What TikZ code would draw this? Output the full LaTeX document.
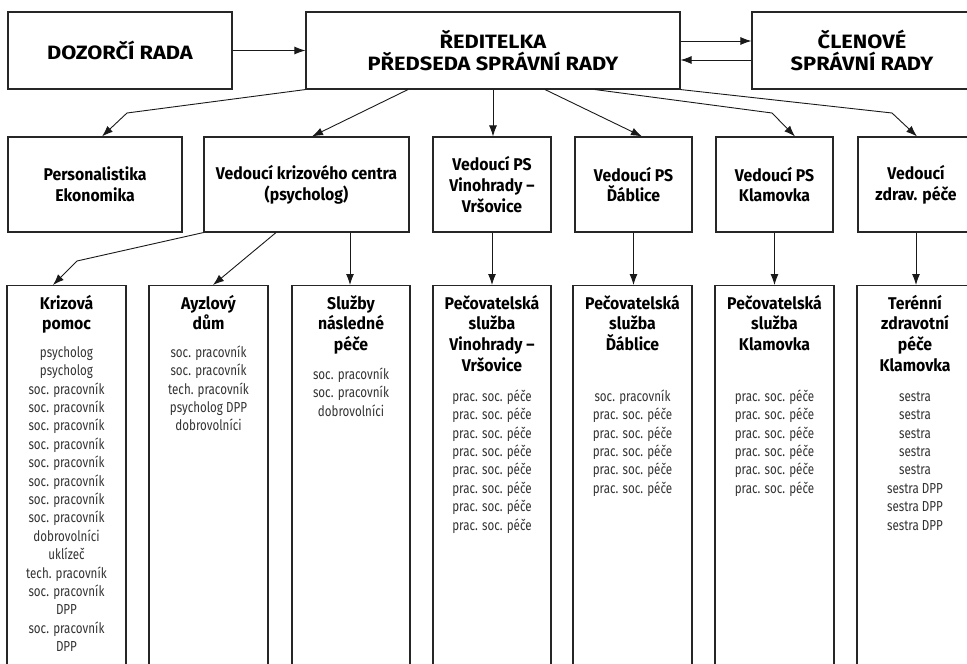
\documentclass[tikz,border=0pt]{standalone}
\usepackage{fontspec}
\setmainfont{Fira Sans}
\newfontfamily\topfont{Fira Sans}[FakeStretch=1.13]
\newfontfamily\condfont{Fira Sans}[FakeStretch=0.93]
\newfontfamily\listfont{Fira Sans}[FakeStretch=0.8]
\usetikzlibrary{arrows.meta}
\newcommand{\myTS}{\rule{0pt}{16pt}}
\newcommand{\myLS}{\rule{0pt}{13pt}}
\tikzset{
 box/.style={draw=black!85, line width=1.1pt, inner sep=0pt, align=center},
 topbox/.style={box, minimum height=77pt, font=\topfont\bfseries\fontsize{19.3}{21.5}\selectfont},
 midbox/.style={box, minimum height=95pt, font=\condfont\bfseries\fontsize{17}{20.7}\selectfont},
 colbox/.style={draw=black!85, line width=1.1pt, anchor=north, minimum height=420pt, inner sep=0pt},
 coltitle/.style={anchor=north, inner sep=0pt, align=center, font=\condfont\bfseries\fontsize{17}{20.7}\selectfont},
 collist/.style={anchor=north, inner sep=0pt, align=center, text=black!80, font=\listfont\fontsize{14.5}{18.4}\selectfont},
 arr/.style={draw=black!90, line width=0.9pt, -{Latex[length=11pt,width=8pt]}},
}
\begin{document}
\begin{tikzpicture}[x=1pt,y=-1pt]
\useasboundingbox (0,0) rectangle (967,664);
\clip (0,0) rectangle (967,664);

% top row
\node[topbox, minimum width=224pt] (dozor) at (120,50.5) {DOZORČÍ RADA};
\node[topbox, minimum width=374pt] (red) at (493,50.5) {ŘEDITELKA\\PŘEDSEDA SPRÁVNÍ RADY};
\node[topbox, minimum width=220pt] (clen) at (862,50.5) {ČLENOVÉ\\SPRÁVNÍ RADY};

% second row
\node[midbox, minimum width=174pt] (pers) at (95,184.5) {Personalistika\\Ekonomika};
\node[midbox, minimum width=205pt] (kriz) at (306.5,184.5) {Vedoucí krizového centra\\(psycholog)};
\node[midbox, minimum width=118pt] (vin) at (492,184.5) {Vedoucí PS\\Vinohrady –\\Vršovice};
\node[midbox, minimum width=117pt] (dab) at (633.5,184.5) {Vedoucí PS\\Ďáblice};
\node[midbox, minimum width=117pt] (klam) at (774.5,184.5) {Vedoucí PS\\Klamovka};
\node[midbox, minimum width=116pt] (zdr) at (916,184.5) {Vedoucí\\zdrav. péče};

% third row boxes
\node[colbox, minimum width=119pt] (c1) at (66.5,285) {};
\node[colbox, minimum width=119pt] (c2) at (208.5,285) {};
\node[colbox, minimum width=118pt] (c3) at (351,285) {};
\node[colbox, minimum width=118pt] (c4) at (492,285) {};
\node[colbox, minimum width=119pt] (c5) at (632.5,285) {};
\node[colbox, minimum width=119pt] (c6) at (774.5,285) {};
\node[colbox, minimum width=116pt] (c7) at (915,285) {};

% titles
\node[coltitle] (t1) at (66.5,293) {\myTS Krizová\\pomoc};
\node[coltitle] (t2) at (208.5,293) {\myTS Ayzlový\\dům};
\node[coltitle] (t3) at (351,293) {\myTS Služby\\následné\\péče};
\node[coltitle] (t4) at (492,293) {\myTS Pečovatelská\\služba\\Vinohrady –\\Vršovice};
\node[coltitle] (t5) at (632.5,293) {\myTS Pečovatelská\\služba\\Ďáblice};
\node[coltitle] (t6) at (774.5,293) {\myTS Pečovatelská\\služba\\Klamovka};
\node[coltitle] (t7) at (915,293) {\myTS Terénní\\zdravotní\\péče\\Klamovka};

% lists
\node[collist] (l1) at (66.5,344) {\myLS psycholog\\psycholog\\soc. pracovník\\soc. pracovník\\soc. pracovník\\soc. pracovník\\soc. pracovník\\soc. pracovník\\soc. pracovník\\soc. pracovník\\dobrovolníci\\uklízeč\\tech. pracovník\\soc. pracovník\\DPP\\soc. pracovník\\DPP};
\node[collist] (l2) at (208.5,344) {\myLS soc. pracovník\\soc. pracovník\\tech. pracovník\\psycholog DPP\\dobrovolníci};
\node[collist] (l3) at (351,366) {\myLS soc. pracovník\\soc. pracovník\\dobrovolníci};
\node[collist] (l4) at (492,388) {\myLS prac. soc. péče\\prac. soc. péče\\prac. soc. péče\\prac. soc. péče\\prac. soc. péče\\prac. soc. péče\\prac. soc. péče\\prac. soc. péče};
\node[collist] (l5) at (632.5,388) {\myLS soc. pracovník\\prac. soc. péče\\prac. soc. péče\\prac. soc. péče\\prac. soc. péče\\prac. soc. péče};
\node[collist] (l6) at (774.5,388) {\myLS prac. soc. péče\\prac. soc. péče\\prac. soc. péče\\prac. soc. péče\\prac. soc. péče\\prac. soc. péče};
\node[collist] (l7) at (915,388) {\myLS sestra\\sestra\\sestra\\sestra\\sestra\\sestra DPP\\sestra DPP\\sestra DPP};

% top connectors
\draw[arr] (dozor.east) -- (red.west);
\draw[arr] ([yshift=9.5pt]red.east) -- ([yshift=9.5pt]clen.west);
\draw[arr] ([yshift=-9.5pt]clen.west) -- ([yshift=-9.5pt]red.east);

% director to second row
\coordinate (k1) at (127,113);
\coordinate (k2) at (772,113);
\coordinate (k3) at (892,113);
\draw[arr] (red.south west) -- (k1) -- ([xshift=7pt]pers.north);
\draw[arr] ([xshift=-85pt]red.south) -- ([xshift=5.5pt]kriz.north);
\draw[arr] (red.south) -- (red.south |- vin.north);
\draw[arr] ([xshift=52pt]red.south) -- ([xshift=8.5pt]dab.north);
\draw[arr] ([xshift=102pt]red.south) -- (k2) -- ([xshift=20.5pt]klam.north);
\draw[arr] (red.south east) -- (k3) -- ([xshift=1pt]zdr.north);

% second row to third row
\coordinate (k4) at (77,261);
\draw[arr] (kriz.south west) -- (k4) -- ([xshift=-13.5pt]c1.north);
\draw[arr] ([xshift=-30.5pt]kriz.south) -- ([xshift=4.5pt]c2.north);
\draw[arr] ([xshift=43.5pt]kriz.south) -- ([xshift=43.5pt]kriz.south |- c3.north);
\draw[arr] (vin.south) -- (vin.south |- c4.north);
\draw[arr] (dab.south) -- (dab.south |- c5.north);
\draw[arr] (klam.south) -- (klam.south |- c6.north);
\draw[arr] (zdr.south) -- (zdr.south |- c7.north);
\end{tikzpicture}
\end{document}
